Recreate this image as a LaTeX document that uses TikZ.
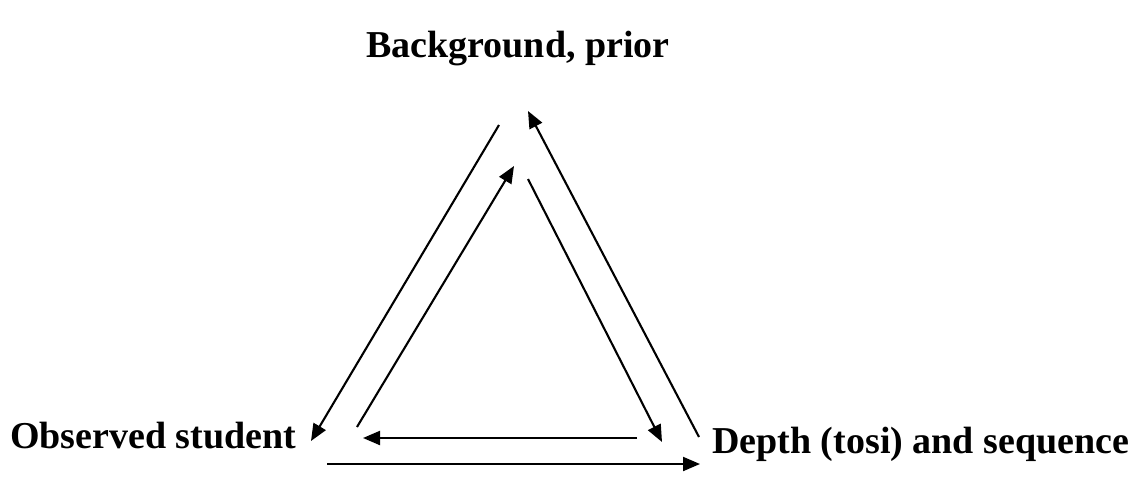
\documentclass[tikz,border=0pt]{standalone}
\usepackage{fontspec}
\setmainfont{Liberation Serif}
\usepackage{tikz}
\usetikzlibrary{arrows.meta}

\tikzset{
  label/.style={font=\fontsize{38}{40}\selectfont\bfseries, inner sep=0pt},
  link/.style={line width=2.1pt, -{Triangle[length=17pt,width=14pt]}}
}

\begin{document}
\begin{tikzpicture}[x=1pt, y=-1pt]
			\useasboundingbox (0,0) rectangle (1136,499);
			% the three corners
			\node[label, anchor=base] (prior) at (518,57) {Background, prior};
			\node[label, anchor=base west] (student) at (10,448) {Observed student};
			\node[label, anchor=base west] (depth) at (712,453) {Depth (tosi) and sequence};
			% arrow ends
			\coordinate (olA) at (499,125);
			\coordinate (olB) at (311,441);
			\coordinate (ilA) at (357,427);
			\coordinate (ilB) at (514,166);
			\coordinate (irA) at (528,179);
			\coordinate (irB) at (662,442);
			\coordinate (orA) at (699,437);
			\coordinate (orB) at (528,111);
			\coordinate (ibA) at (637,438);
			\coordinate (ibB) at (363,438);
			\coordinate (obA) at (327,464);
			\coordinate (obB) at (700,464);
			% arrows
			\draw[link] (olA) -- (olB);
			\draw[link] (ilA) -- (ilB);
			\draw[link] (irA) -- (irB);
			\draw[link] (orA) -- (orB);
			\draw[link] (ibA) -- (ibB);
			\draw[link] (obA) -- (obB);
		\end{tikzpicture}
\end{document}
